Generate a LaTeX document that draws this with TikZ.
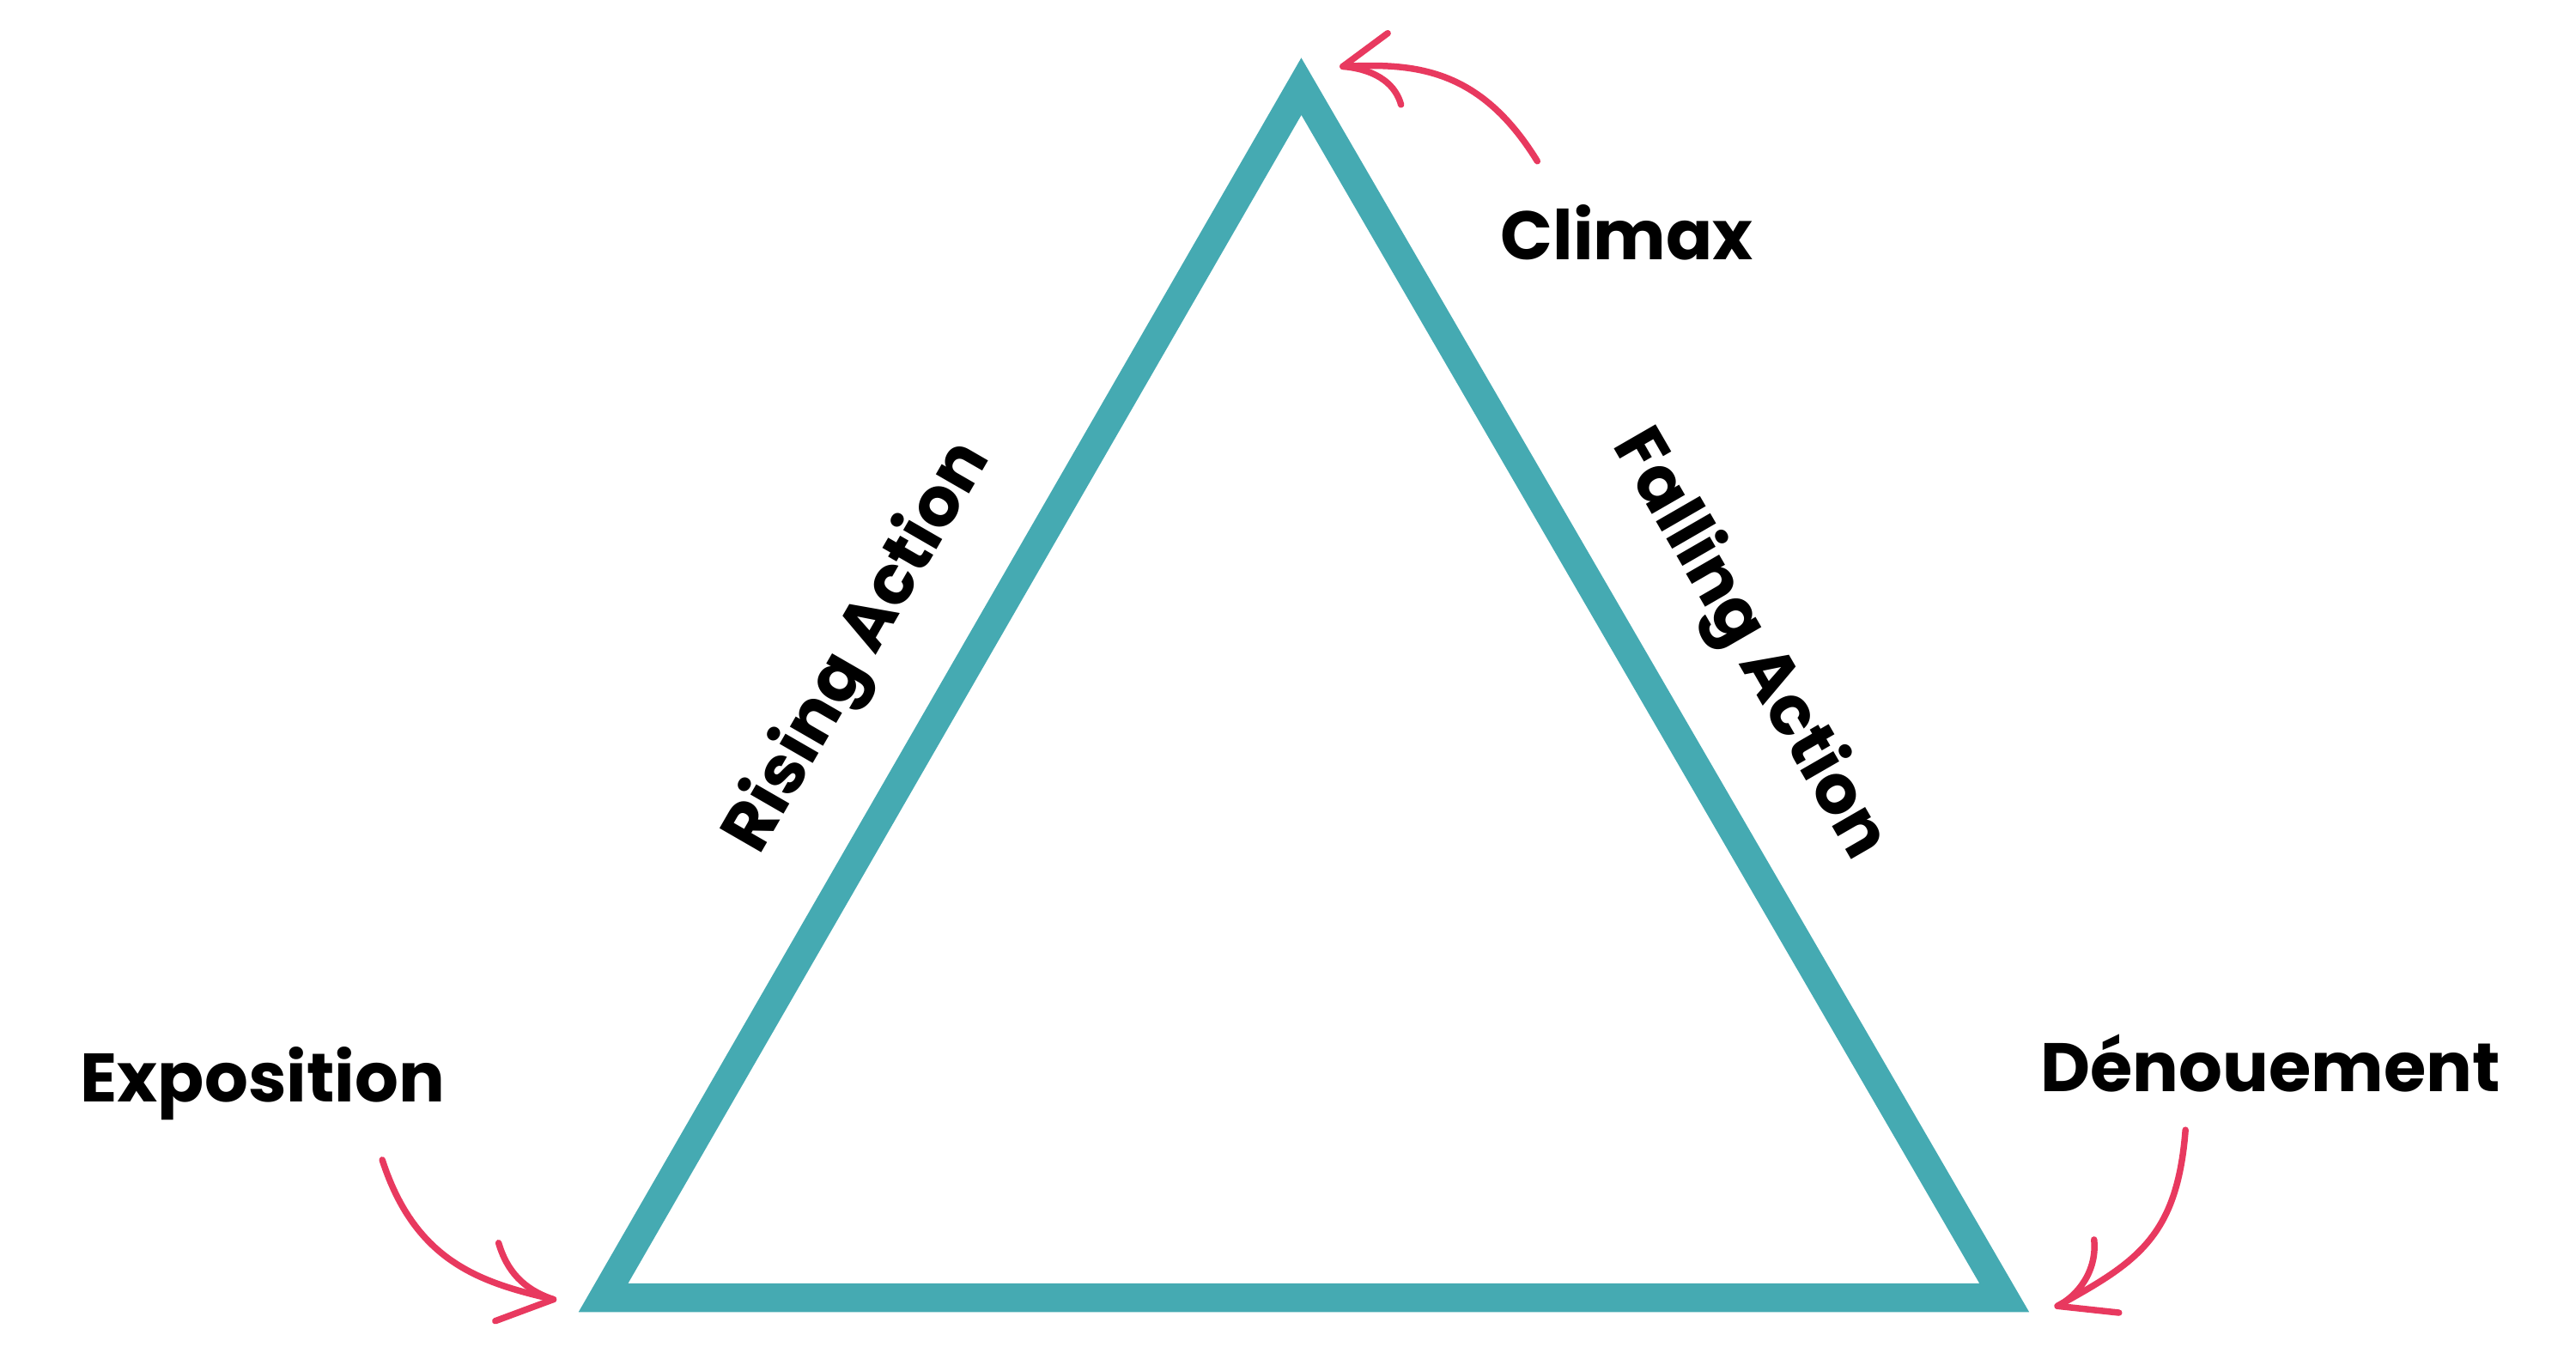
\documentclass[tikz,border=0pt]{standalone}
\usepackage{fontspec}
\setmainfont{Poppins}
\definecolor{teal1}{HTML}{45AAB2}
\definecolor{pink1}{HTML}{E8395F}
\begin{document}
\begin{tikzpicture}[x=0.02cm,y=-0.02cm,
  lbl/.style={font=\fontsize{23.5}{28}\selectfont\bfseries,inner sep=0pt},
  hand/.style={draw=pink1,line width=2.2pt,line cap=round,line join=round}]
\useasboundingbox[fill=white] (0,0) rectangle (1550,814);
\coordinate (L) at (363,781);
\coordinate (T) at (783,52);
\coordinate (R) at (1206,781);
\draw[teal1,line width=9.8pt,line join=miter] (L) -- (T) -- (R) -- cycle;
\node[lbl] (climax) at (979,140) {Climax};
\node[lbl] (expo) at (158,652) {Exposition};
\node[lbl] (deno) at (1366,640) {Dénouement};
\node[lbl,rotate=60] (rise) at (517,390) {Rising Action};
\node[lbl,rotate=-60] (fall) at (1052,388) {Falling Action};
% arrows
\coordinate (c0) at (925,97); \coordinate (c1) at (808,40);
\draw[hand] (c0) .. controls (890,40) and (850,38) .. (c1);
\draw[hand] (835,20) -- (c1) .. controls (830,42) and (840,52) .. (843,63);
\coordinate (e0) at (230,698); \coordinate (e1) at (333,782);
\draw[hand] (e0) .. controls (250,760) and (290,772) .. (e1);
\draw[hand] (300,748) .. controls (305,765) and (315,776) .. (e1) -- (298,795);
\coordinate (d0) at (1315,680); \coordinate (d1) at (1238,786);
\draw[hand] (d0) .. controls (1310,745) and (1285,760) .. (d1);
\draw[hand] (1260,746) .. controls (1262,765) and (1250,780) .. (d1) -- (1275,790);
\end{tikzpicture}
\end{document}
